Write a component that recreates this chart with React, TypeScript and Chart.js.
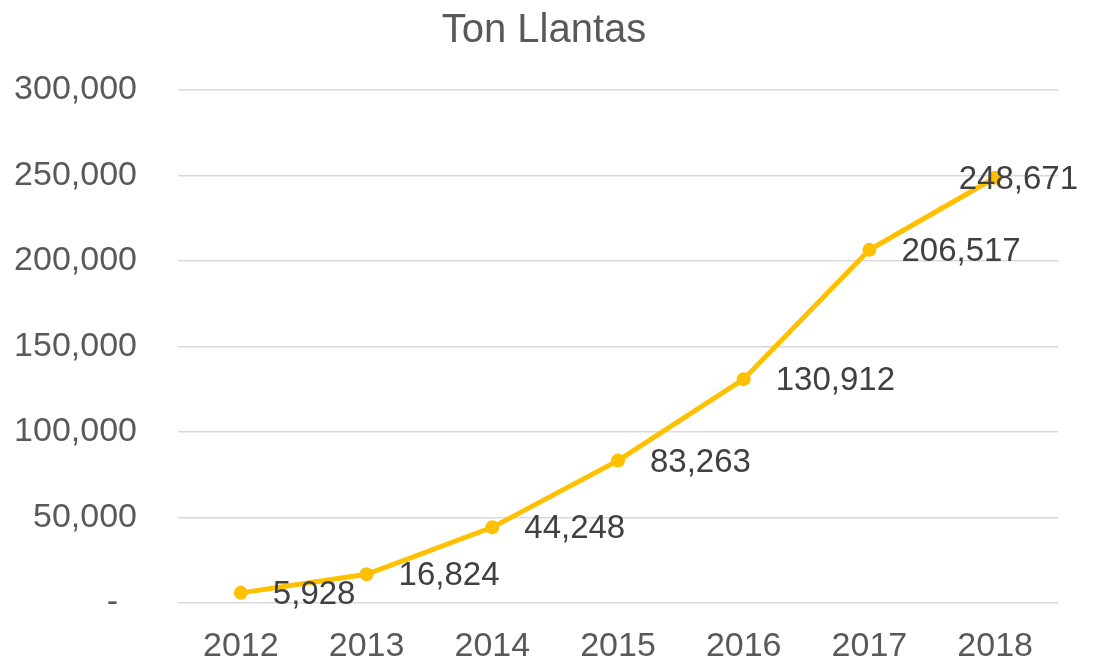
import React, { useEffect, useRef } from "react";
import { Chart, registerables } from "chart.js";

Chart.register(...registerables);

const years = ["2012", "2013", "2014", "2015", "2016", "2017", "2018"];
const tons = [5928, 16824, 44248, 83263, 130912, 206517, 248671];
const chartTitle = "Ton Llantas";
const yMax = 300000;
const yStep = 50000;

const FONT = '"Liberation Sans Narrow", "Arial Narrow", "Liberation Sans", Arial, sans-serif';

const fmt = (v: number) => v.toLocaleString("en-US");

const labelPlugin = {
  id: "pointLabels",
  afterDatasetsDraw(chart: any) {
    const ctx = chart.ctx;
    const meta = chart.getDatasetMeta(0);
    ctx.save();
    ctx.font = `33px ${FONT}`;
    ctx.fillStyle = "#404040";
    ctx.textAlign = "left";
    ctx.textBaseline = "middle";
    meta.data.forEach((pt: any, i: number) => {
      const text = fmt(tons[i]);
      const w = ctx.measureText(text).width;
      let x = pt.x + 32;
      if (x + w > chart.width - 22) x = chart.width - 22 - w;
      ctx.fillText(text, x, pt.y + 2);
    });
    ctx.restore();
  },
};

export default function App() {
  const ref = useRef<HTMLCanvasElement | null>(null);
  useEffect(() => {
    if (!ref.current) return;
    const chart = new Chart(ref.current, {
      type: "line",
      data: {
        labels: years,
        datasets: [
          {
            data: tons,
            borderColor: "#FFC000",
            backgroundColor: "#FFC000",
            borderWidth: 5,
            pointRadius: 7,
            pointHoverRadius: 7,
            pointBorderWidth: 0,
            tension: 0,
          },
        ],
      },
      options: {
        responsive: false,
        animation: false,
        devicePixelRatio: 1,
        layout: { padding: { left: 0, right: 12, top: 0, bottom: 0 } },
        plugins: {
          legend: { display: false },
          tooltip: { enabled: false },
          title: {
            display: true,
            text: chartTitle,
            color: "#595959",
            font: { family: FONT, size: 40, weight: "normal" },
            padding: { top: 7, bottom: 35 },
          },
        },
        scales: {
          x: {
            offset: true,
            afterFit: (s: any) => {
              s.height = 63;
            },
            grid: { display: false, drawTicks: false },
            border: { display: false },
            ticks: {
              color: "#595959",
              font: { family: FONT, size: 34 },
              padding: 23,
              maxRotation: 0,
            },
          },
          y: {
            min: 0,
            max: yMax,
            afterFit: (s: any) => {
              s.width = 178;
            },
            grid: { color: "#D9D9D9", lineWidth: 1.5, drawTicks: false },
            border: { display: false },
            ticks: {
              stepSize: yStep,
              color: "#595959",
              font: { family: FONT, size: 34 },
              padding: 41,
              callback: (v: any) => (Number(v) === 0 ? "-  " : fmt(Number(v))),
            },
          },
          yRight: {
            position: "right",
            min: 0,
            max: yMax,
            afterFit: (s: any) => {
              s.width = 30;
            },
            grid: { display: false, drawTicks: false },
            border: { display: false },
            ticks: { display: false },
          },
        },
      },
      plugins: [labelPlugin],
    });
    return () => chart.destroy();
  }, []);
  return (
    <div style={{ position: "fixed", left: 0, top: 0, width: 1100, height: 666, background: "#fff" }}>
      <canvas ref={ref} width={1100} height={666} />
    </div>
  );
}
